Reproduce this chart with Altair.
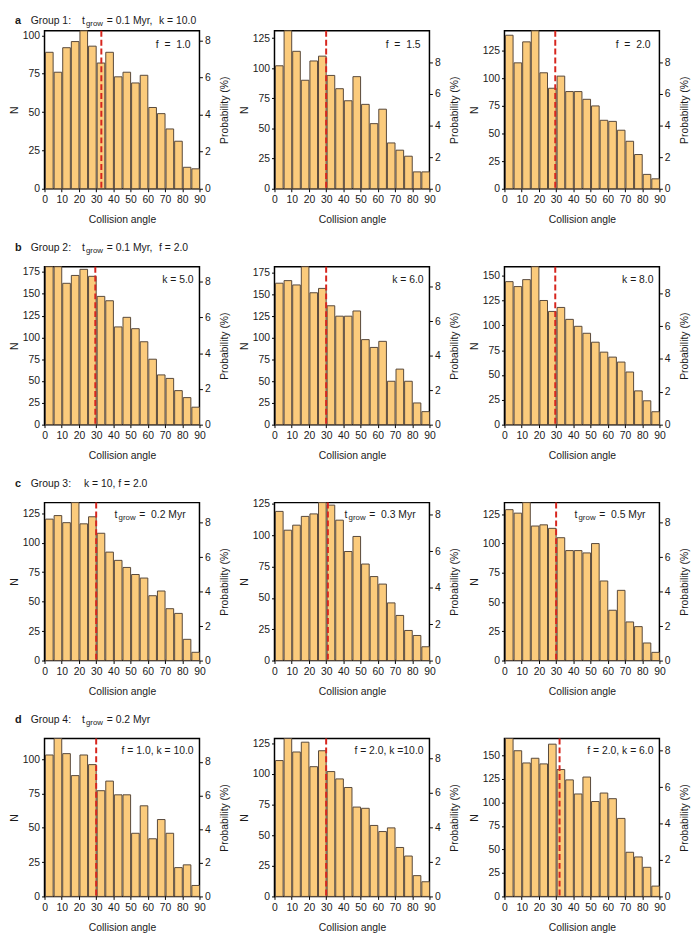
import altair as alt
import pandas as pd

# ---------------- data ----------------
bin_starts = [0, 5, 10, 15, 20, 25, 30, 35, 40, 45, 50, 55, 60, 65, 70, 75, 80, 85]
bin_width = 5
x_tick_values = [0, 10, 20, 30, 40, 50, 60, 70, 80, 90]
n_tick_step = 25
prob_tick_values = [0, 2, 4, 6, 8]

panel_keys = ["a1", "a2", "a3", "b1", "b2", "b3", "c1", "c2", "c3", "d1", "d2", "d3"]

counts_a1 = [89, 76, 92, 96, 103, 93, 82, 89, 73, 76, 69, 74, 53, 49, 39, 31, 14, 13]
counts_a2 = [102, 131, 114, 90, 106, 110, 94, 83, 73, 93, 70, 54, 66, 38, 32, 27, 14, 14]
counts_a3 = [139, 114, 133, 143, 105, 91, 102, 88, 88, 81, 75, 62, 61, 53, 43, 31, 13, 9]
counts_b1 = [181, 181, 162, 171, 178, 170, 147, 142, 112, 123, 110, 95, 75, 57, 53, 39, 31, 20]
counts_b2 = [163, 166, 161, 182, 152, 157, 137, 125, 125, 131, 98, 89, 96, 50, 64, 50, 25, 15]
counts_b3 = [144, 139, 146, 159, 125, 114, 118, 106, 99, 92, 83, 73, 68, 63, 53, 34, 24, 13]
counts_c1 = [120, 123, 117, 134, 116, 122, 108, 92, 85, 79, 73, 70, 55, 59, 44, 40, 18, 7]
counts_c2 = [119, 104, 108, 115, 117, 126, 124, 112, 87, 99, 77, 67, 61, 46, 36, 24, 20, 11]
counts_c3 = [129, 126, 135, 115, 116, 113, 105, 94, 94, 92, 100, 68, 43, 60, 33, 29, 15, 7]
counts_d1 = [103, 115, 104, 88, 103, 96, 77, 84, 74, 74, 46, 66, 42, 56, 46, 21, 23, 8]
counts_d2 = [111, 129, 118, 126, 106, 119, 102, 96, 89, 73, 72, 58, 53, 56, 40, 33, 17, 12]
counts_d3 = [168, 155, 142, 147, 141, 162, 135, 124, 109, 127, 101, 110, 104, 83, 47, 42, 31, 11]

counts = {
    "a1": counts_a1, "a2": counts_a2, "a3": counts_a3,
    "b1": counts_b1, "b2": counts_b2, "b3": counts_b3,
    "c1": counts_c1, "c2": counts_c2, "c3": counts_c3,
    "d1": counts_d1, "d2": counts_d2, "d3": counts_d3,
}
mean_angle = {
    "a1": 33, "a2": 30, "a3": 29.5,
    "b1": 29.5, "b2": 30, "b3": 29.5,
    "c1": 30, "c2": 31, "c3": 30,
    "d1": 30, "d2": 30, "d3": 32,
}

NB = "\u00a0"
panel_labels = {
    "a1": f"f {NB}= {NB}1.0", "a2": f"f {NB}= {NB}1.5", "a3": f"f {NB}= {NB}2.0",
    "b1": "k = 5.0", "b2": "k = 6.0", "b3": "k = 8.0",
    "d1": "f = 1.0, k = 10.0", "d2": "f = 2.0, k =10.0", "d3": "f = 2.0, k = 6.0",
}
tgrow_labels = {"c1": "0.2 Myr", "c2": "0.3 Myr", "c3": "0.5 Myr"}

header_letters = {"a1": "a", "b1": "b", "c1": "c", "d1": "d"}
header_groups = {"a1": "Group 1:", "b1": "Group 2:", "c1": "Group 3:", "d1": "Group 4:"}
header_tgrow = {"a1": "= 0.1 Myr,", "b1": "= 0.1 Myr,", "d1": "= 0.2 Myr"}
header_extra = {"a1": "k = 10.0", "b1": "f = 2.0", "c1": "k = 10, f = 2.0"}

# ---------------- style ----------------
FONT = "Liberation Sans"
FILL = "#FBCB7C"
EDGE = "#56473a"
RED = "#D7261E"
TXT = "#1a1a1a"
W, H = 157, 160

one = pd.DataFrame({"k": [0]})


def txt(s, x, y, size=10.5, weight="normal", align="left"):
    return alt.Chart(one).mark_text(
        text=s, align=align, baseline="middle", fontSize=size,
        fontWeight=weight, font=FONT, color=TXT
    ).encode(x=alt.value(x), y=alt.value(y))


def panel(key):
    n = counts[key]
    df = pd.DataFrame({
        "start": bin_starts,
        "end": [s + bin_width for s in bin_starts],
        "N": n,
    })
    nmax = max(n)
    total = sum(n)
    pmax = nmax / total * 100.0

    x_scale = alt.Scale(domain=[0, 90], nice=False)
    x_axis = alt.Axis(
        values=x_tick_values, title="Collision angle", labelFlush=False,
        labelOverlap=False, tickSize=3, labelPadding=3, titlePadding=10,
        grid=False, domain=False,
    )

    bars = alt.Chart(df).mark_bar(fill=FILL, stroke=EDGE, strokeWidth=1).encode(
        x=alt.X("start:Q", bin="binned", scale=x_scale, axis=x_axis),
        x2="end:Q",
        y=alt.Y(
            "N:Q",
            scale=alt.Scale(domain=[0, nmax], nice=False),
            axis=alt.Axis(
                values=list(range(0, nmax + 1, n_tick_step)), title="N",
                tickSize=3, labelPadding=2, titlePadding=3, grid=False,
                domain=False, labelFlush=False,
            ),
        ),
    )

    rule = alt.Chart(pd.DataFrame({"m": [mean_angle[key]]})).mark_rule(
        color=RED, strokeDash=[6, 3], strokeWidth=2
    ).encode(x=alt.X("m:Q", scale=x_scale, axis=x_axis))

    prob = alt.Chart(pd.DataFrame({"p": [0, pmax]})).mark_point(opacity=0).encode(
        y=alt.Y(
            "p:Q",
            scale=alt.Scale(domain=[0, pmax], nice=False),
            axis=alt.Axis(
                orient="right", values=prob_tick_values, title="Probability (%)",
                titleAngle=270, titleBaseline="top", tickSize=3, labelPadding=2,
                titlePadding=10, grid=False, domain=False, labelFlush=False,
            ),
        )
    )

    layers = [bars, rule, prob]

    if key in panel_labels:
        ry = 14 if key.startswith("a") else 13
        rx = W - 9 if key.startswith("a") else W - 6
        layers.append(txt(panel_labels[key], rx, ry, align="right"))
    if key in tgrow_labels:
        layers.append(txt("t", W - 86, 13))
        layers.append(txt("grow", W - 82, 16, size=8))
        layers.append(txt("= " + NB + tgrow_labels[key], W - 61, 13))

    if key in header_letters:
        hy = -10 if key == "a1" else -19
        layers.append(txt(header_letters[key], -30, hy, size=11, weight="bold"))
        layers.append(txt(header_groups[key], -14, hy))
        if key in header_tgrow:
            layers.append(txt("t", 38, hy))
            layers.append(txt("grow", 42, hy + 3, size=8))
            layers.append(txt(header_tgrow[key], 63, hy))
        if key in header_extra:
            if key == "c1":
                layers.append(txt(header_extra[key], 40, hy))
            else:
                layers.append(txt(header_extra[key], 116, hy))

    return alt.layer(*layers).resolve_scale(y="independent").properties(width=W, height=H)


chart = alt.concat(
    *[panel(k) for k in panel_keys],
    columns=3,
    spacing={"row": 79, "column": 76},
    bounds="flush",
).properties(
    padding={"left": 0, "top": 0, "right": 0, "bottom": 0}
).configure(
    font=FONT
).configure_view(
    stroke="black", strokeWidth=1.5
).configure_axis(
    labelFont=FONT, titleFont=FONT, labelFontSize=10.5, titleFontSize=10.5,
    titleFontWeight="normal", labelColor=TXT, titleColor=TXT,
    tickColor="black", tickWidth=1,
)

chart.save("out.html", embed_options={"renderer": "svg", "actions": False})
